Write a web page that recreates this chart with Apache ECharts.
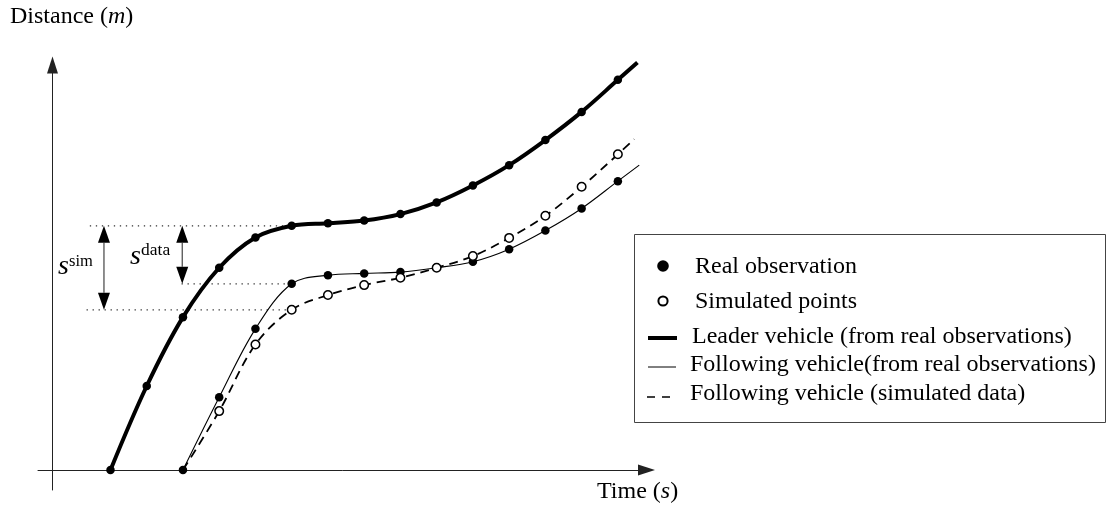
<!DOCTYPE html>
<html>
<head>
<meta charset="utf-8">
<script src="https://cdn.jsdelivr.net/npm/echarts@6/dist/echarts.min.js"></script>
<style>
  html, body { margin: 0; padding: 0; background: #fff; }
  #chart { width: 1106px; height: 509px; }
</style>
</head>
<body>
<div id="chart"></div>
<script>
// ---- data (time in s, distance in m; schematic units) ----
var leaderTime = [1.6, 2.6, 3.6, 4.6, 5.6, 6.6, 7.6, 8.6, 9.6, 10.6, 11.6, 12.6, 13.6, 14.6, 15.6, 16.14];
var leaderDist = [0, 19.4, 35.3, 46.7, 53.7, 56.4, 57.0, 57.6, 59.1, 61.8, 65.7, 70.4, 76.2, 82.7, 90.1, 94.1];

var followTime = [3.6, 4.6, 5.6, 6.6, 7.6, 8.6, 9.6, 10.6, 11.6, 12.6, 13.6, 14.6, 15.6, 16.19];
var followDist = [0, 16.8, 32.6, 43.0, 45.0, 45.4, 45.7, 46.7, 48.1, 51.0, 55.3, 60.4, 66.7, 70.4];

var simTime = [3.6, 4.6, 5.6, 6.6, 7.6, 8.6, 9.6, 10.6, 11.6, 12.6, 13.6, 14.6, 15.6, 16.05];
var simDist = [0, 13.6, 29.0, 37.0, 40.4, 42.7, 44.4, 46.7, 49.4, 53.6, 58.7, 65.4, 72.9, 76.4];

// gap annotation: measured at t = 6.6
var gapIndexLeader = 5, gapIndexFollow = 3;
var refStartTop = 1.03, refStartData = 3.56, refStartSim = 0.94;
var arrowTimeSim = 1.42, arrowTimeData = 3.58;

var legendLabels = [
  'Real observation',
  'Simulated points',
  'Leader vehicle (from real observations)',
  'Following vehicle(from real observations)',
  'Following vehicle (simulated data)'
];

// ---- build series data ----
function pairs(ts, ds, markFirst, markLast) {
  return ts.map(function (t, i) {
    var item = { value: [t, ds[i]] };
    if ((i === 0 && !markFirst) || (i === ts.length - 1 && !markLast)) item.symbol = 'none';
    return item;
  });
}

var gapT = leaderTime[gapIndexLeader];
var topD = leaderDist[gapIndexLeader];
var dataD = followDist[gapIndexFollow];
var simD = simDist[gapIndexFollow];

var FONT = 'Liberation Serif';
var FS = 24;

var chart = echarts.init(document.getElementById('chart'), null, { renderer: 'canvas' });

function dottedSeries(x0, x1, y) {
  return {
    type: 'line', data: [[x0, y], [x1, y]], symbol: 'none', silent: true, clip: false,
    lineStyle: { color: '#333', width: 1.3, type: [1.3, 4.7] }, z: 1
  };
}

var option = {
  animation: false,
  backgroundColor: '#fff',
  grid: { left: 38, right: 459.5, top: 65, bottom: 19, containLabel: false },
  xAxis: {
    type: 'value', min: -0.4, max: 16.39,
    axisLine: { show: true, onZero: true, symbol: ['none', 'triangle'], symbolSize: [11, 17],
      lineStyle: { color: '#222', width: 1 } },
    axisTick: { show: false }, axisLabel: { show: false }, splitLine: { show: false }
  },
  yAxis: {
    type: 'value', min: -4.62, max: 93.53,
    axisLine: { show: true, onZero: true, symbol: ['none', 'triangle'], symbolSize: [11, 17],
      lineStyle: { color: '#222', width: 1 } },
    axisTick: { show: false }, axisLabel: { show: false }, splitLine: { show: false }
  },
  series: [
    dottedSeries(refStartTop, gapT, topD),
    dottedSeries(refStartData, gapT, dataD),
    dottedSeries(refStartSim, gapT, simD),
    {
      name: 'Leader', type: 'line', smooth: 0.35, clip: false, z: 3,
      data: pairs(leaderTime, leaderDist, true, false),
      symbol: 'circle', symbolSize: 8.5,
      lineStyle: { color: '#000', width: 4 },
      itemStyle: { color: '#000' }
    },
    {
      name: 'Following', type: 'line', smooth: 0.35, clip: false, z: 3,
      data: pairs(followTime, followDist, true, false),
      symbol: 'circle', symbolSize: 8.5,
      lineStyle: { color: '#000', width: 1.1 },
      itemStyle: { color: '#000' }
    },
    {
      name: 'Simulated', type: 'line', smooth: 0.35, clip: false, z: 4,
      data: pairs(simTime, simDist, false, false),
      symbol: 'circle', symbolSize: 8.5,
      lineStyle: { color: '#000', width: 1.8, type: [9, 6] },
      itemStyle: { color: '#fff', borderColor: '#000', borderWidth: 1.5 }
    },
    {
      type: 'custom', coordinateSystem: 'cartesian2d', clip: false, z: 5, silent: true,
      data: [[arrowTimeSim, topD, simD], [arrowTimeData, topD, dataD]],
      renderItem: function (params, api) {
        var a = api.coord([api.value(0), api.value(1)]);
        var b = api.coord([api.value(0), api.value(2)]);
        var w = 6, h = 17;
        return {
          type: 'group',
          children: [
            { type: 'line', shape: { x1: a[0], y1: a[1] + h, x2: b[0], y2: b[1] - h },
              style: { stroke: '#444', lineWidth: 1.2 } },
            { type: 'polygon', shape: { points: [[a[0], a[1]], [a[0] - w, a[1] + h], [a[0] + w, a[1] + h]] },
              style: { fill: '#000' } },
            { type: 'polygon', shape: { points: [[b[0], b[1]], [b[0] - w, b[1] - h], [b[0] + w, b[1] - h]] },
              style: { fill: '#000' } }
          ]
        };
      }
    }
  ],
  graphic: [
    // axis names
    { type: 'text', left: 10, top: 5, style: {
      text: '{r|Distance (}{i|m}{r|)}',
      rich: { r: { fontFamily: FONT, fontSize: FS, fill: '#000' },
              i: { fontFamily: FONT, fontSize: FS, fontStyle: 'italic', fill: '#000' } } } },
    { type: 'text', left: 597, top: 480, style: {
      text: '{r|Time (}{i|s}{r|)}',
      rich: { r: { fontFamily: FONT, fontSize: FS, fill: '#000' },
              i: { fontFamily: FONT, fontSize: FS, fontStyle: 'italic', fill: '#000' } } } },
    // gap labels
    { type: 'text', x: 58, y: 267, style: { text: 's', fontFamily: FONT, fontSize: 28, fontStyle: 'italic', fill: '#000', verticalAlign: 'middle' } },
    { type: 'text', x: 69, y: 262, style: { text: 'sim', fontFamily: FONT, fontSize: 16.5, fill: '#000', verticalAlign: 'middle' } },
    { type: 'text', x: 130, y: 257, style: { text: 's', fontFamily: FONT, fontSize: 28, fontStyle: 'italic', fill: '#000', verticalAlign: 'middle' } },
    { type: 'text', x: 141, y: 250, style: { text: 'data', fontFamily: FONT, fontSize: 17.5, fill: '#000', verticalAlign: 'middle' } },
    // legend box
    { type: 'rect', shape: { x: 634.5, y: 234.5, width: 471, height: 188 },
      style: { fill: '#fff', stroke: '#444', lineWidth: 1 }, z: 10 },
    { type: 'circle', shape: { cx: 663, cy: 266, r: 5.8 }, style: { fill: '#000' }, z: 11 },
    { type: 'circle', shape: { cx: 663, cy: 301, r: 4.6 }, style: { fill: '#fff', stroke: '#000', lineWidth: 2 }, z: 11 },
    { type: 'line', shape: { x1: 648, y1: 338, x2: 677, y2: 338 }, style: { stroke: '#000', lineWidth: 4 }, z: 11 },
    { type: 'line', shape: { x1: 648, y1: 367, x2: 676, y2: 367 }, style: { stroke: '#000', lineWidth: 1 }, z: 11 },
    { type: 'line', shape: { x1: 647, y1: 397, x2: 670, y2: 397 }, style: { stroke: '#000', lineWidth: 1.5, lineDash: [8, 7] }, z: 11 },
    { type: 'text', x: 695, y: 267, z: 11, style: { text: legendLabels[0], fontFamily: FONT, fontSize: FS, fill: '#000', verticalAlign: 'middle' } },
    { type: 'text', x: 695, y: 302, z: 11, style: { text: legendLabels[1], fontFamily: FONT, fontSize: FS, fill: '#000', verticalAlign: 'middle' } },
    { type: 'text', x: 692, y: 337, z: 11, style: { text: legendLabels[2], fontFamily: FONT, fontSize: FS, fill: '#000', verticalAlign: 'middle' } },
    { type: 'text', x: 690, y: 365, z: 11, style: { text: legendLabels[3], fontFamily: FONT, fontSize: FS, fill: '#000', verticalAlign: 'middle' } },
    { type: 'text', x: 690, y: 394, z: 11, style: { text: legendLabels[4], fontFamily: FONT, fontSize: FS, fill: '#000', verticalAlign: 'middle' } }
  ]
};

chart.setOption(option);
</script>
</body>
</html>
